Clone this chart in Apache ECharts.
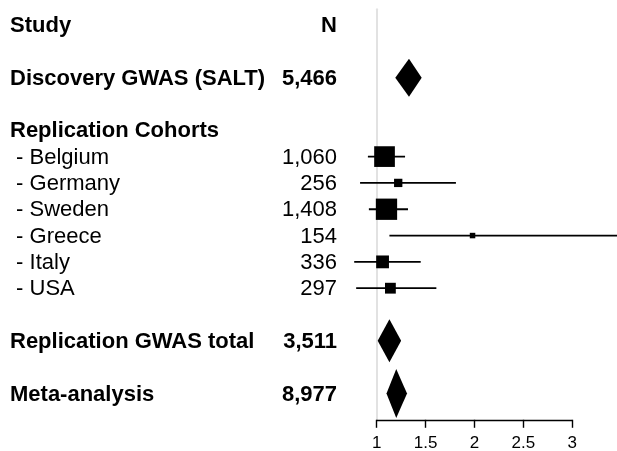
<!DOCTYPE html>
<html>
<head>
<meta charset="utf-8">
<script src="https://cdn.jsdelivr.net/npm/echarts@6/dist/echarts.min.js"></script>
<style>
  html, body { margin: 0; padding: 0; background: #ffffff; }
  #chart { width: 617px; height: 451px; }
</style>
</head>
<body>
<div id="chart"></div>
<script>
// Forest plot: odds ratios with 95% confidence intervals per study.

const columnHeaders = ['Study', 'N'];

// Table rows in display order; null entries are blank spacer rows.
const rowKeys = [null, null, 'discovery', null, 'replicationHeader',
  'Belgium', 'Germany', 'Sweden', 'Greece', 'Italy', 'USA', null,
  'replicationTotal', null, 'meta'];

// Individual replication cohorts
const cohortNames = ['Belgium', 'Germany', 'Sweden', 'Greece', 'Italy', 'USA'];
const cohortN = [1060, 256, 1408, 154, 336, 297];
const cohortOR = [1.08, 1.22, 1.10, 1.98, 1.06, 1.14];
const cohortLower = [0.91, 0.83, 0.92, 1.13, 0.77, 0.79];
const cohortUpper = [1.29, 1.81, 1.32, 3.48, 1.45, 1.61];
const cohortWeight = [34, 5.5, 36, 2.4, 13, 9.3]; // percent weight

// Pooled estimates
const pooledKeys = ['discovery', 'replicationTotal', 'meta'];
const pooledNames = ['Discovery GWAS (SALT)', 'Replication GWAS total', 'Meta-analysis'];
const pooledN = [5466, 3511, 8977];
const pooledOR = [1.33, 1.13, 1.20];
const pooledLower = [1.19, 1.01, 1.10];
const pooledUpper = [1.46, 1.25, 1.31];

const sectionHeader = 'Replication Cohorts';

// X axis ticks
const xTicks = [1, 1.5, 2, 2.5, 3];

// ---- styling ----
const FONT = "'Liberation Sans', Arial, Helvetica, sans-serif";
const TEXT_SIZE = 22;
const TEXT_DY = 1;
const NAME_X = 10;
const N_RIGHT_X = 337;
const diamondHeight = { discovery: 38, replicationTotal: 43, meta: 49 };
const BOX_SCALE = 3.55; // box side = scale * sqrt(weight)

const rowOf = key => rowKeys.indexOf(key);
const fmt = n => n.toLocaleString('en-US');

// text rows: [row, name, N, bold]
const textRows = [];
textRows.push([0, columnHeaders[0], columnHeaders[1], true]);
pooledKeys.forEach((k, i) => textRows.push([rowOf(k), pooledNames[i], fmt(pooledN[i]), true]));
textRows.push([rowOf('replicationHeader'), sectionHeader, '', true]);
cohortNames.forEach((c, i) => textRows.push([rowOf(c), ' - ' + c, fmt(cohortN[i]), false]));

const cohortData = cohortNames.map((c, i) =>
  [cohortOR[i], rowOf(c), cohortLower[i], cohortUpper[i], cohortWeight[i]]);
const pooledData = pooledKeys.map((k, i) =>
  [pooledOR[i], rowOf(k), pooledLower[i], pooledUpper[i], diamondHeight[k]]);

const chart = echarts.init(document.getElementById('chart'), null, { renderer: 'canvas' });

chart.setOption({
  backgroundColor: '#ffffff',
  animation: false,
  grid: { left: 376.7, right: 44.7, top: 9.2, bottom: 31.2, containLabel: false, outerBoundsMode: 'none' },
  xAxis: {
    type: 'value',
    position: 'bottom',
    min: xTicks[0],
    max: xTicks[xTicks.length - 1],
    interval: 0.5,
    axisLine: { show: true, onZero: false, lineStyle: { color: '#000', width: 1.4 } },
    axisTick: { show: true, length: 8, lineStyle: { color: '#000', width: 1.4 } },
    axisLabel: { color: '#000', fontSize: 17, fontFamily: FONT, margin: 15 },
    splitLine: { show: false }
  },
  yAxis: {
    type: 'value',
    inverse: true,
    min: -0.6,
    max: 15,
    axisLine: { show: true, onZero: false, lineStyle: { color: '#e2e2e2', width: 2 } },
    axisTick: { show: false },
    axisLabel: { show: false },
    splitLine: { show: false }
  },
  series: [
    {
      // study names and sample sizes
      type: 'custom',
      data: textRows,
      encode: { y: 0 },
      clip: false,
      renderItem: function (params, api) {
        const r = textRows[params.dataIndex];
        const y = api.coord([1, r[0]])[1] + TEXT_DY;
        const weight = r[3] ? 'bold' : 'normal';
        return {
          type: 'group',
          children: [
            { type: 'text', style: { x: NAME_X, y: y, text: r[1], fill: '#000', font: weight + ' ' + TEXT_SIZE + 'px ' + FONT, textAlign: 'left', textVerticalAlign: 'middle' } },
            { type: 'text', style: { x: N_RIGHT_X, y: y, text: r[2], fill: '#000', font: weight + ' ' + TEXT_SIZE + 'px ' + FONT, textAlign: 'right', textVerticalAlign: 'middle' } }
          ]
        };
      }
    },
    {
      // cohort estimates: CI line + weighted box
      type: 'custom',
      data: cohortData,
      encode: { x: 0, y: 1 },
      clip: false,
      renderItem: function (params, api) {
        const p = api.coord([api.value(0), api.value(1)]);
        const lo = api.coord([api.value(2), api.value(1)]);
        const hi = api.coord([api.value(3), api.value(1)]);
        const side = BOX_SCALE * Math.sqrt(api.value(4));
        return {
          type: 'group',
          children: [
            { type: 'line', shape: { x1: lo[0], y1: p[1], x2: hi[0], y2: p[1] }, style: { stroke: '#000', lineWidth: 1.8 } },
            { type: 'rect', shape: { x: p[0] - side / 2, y: p[1] - side / 2, width: side, height: side }, style: { fill: '#000' } }
          ]
        };
      }
    },
    {
      // pooled estimates: diamonds spanning the CI
      type: 'custom',
      data: pooledData,
      encode: { x: 0, y: 1 },
      clip: false,
      renderItem: function (params, api) {
        const p = api.coord([api.value(0), api.value(1)]);
        const lo = api.coord([api.value(2), api.value(1)]);
        const hi = api.coord([api.value(3), api.value(1)]);
        const h = api.value(4) / 2;
        return {
          type: 'polygon',
          shape: { points: [[lo[0], p[1]], [p[0], p[1] - h], [hi[0], p[1]], [p[0], p[1] + h]] },
          style: { fill: '#000' }
        };
      }
    }
  ]
});
</script>
</body>
</html>
